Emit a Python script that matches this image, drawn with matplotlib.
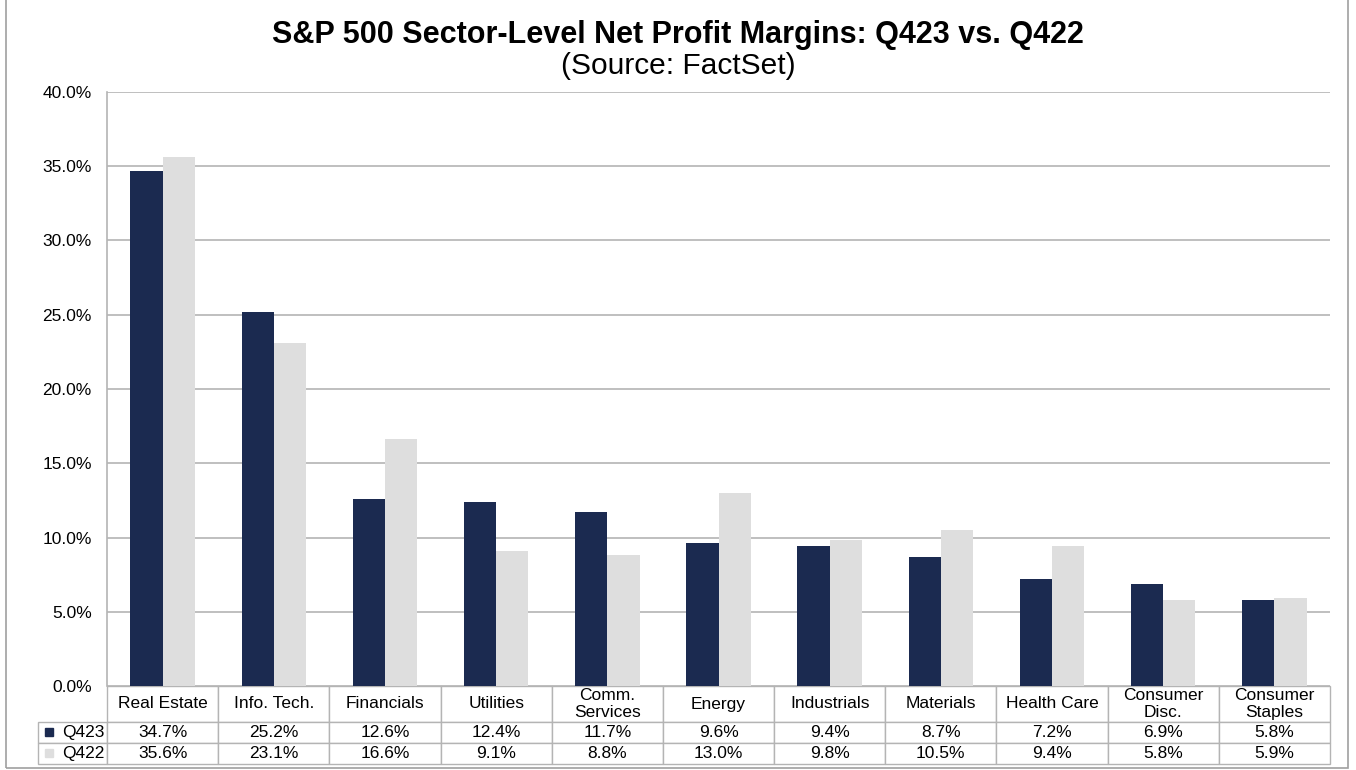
import numpy as np
import matplotlib.pyplot as plt
from matplotlib.patches import Rectangle

plt.rcParams['font.family'] = ['Liberation Sans', 'DejaVu Sans']

sektoren = ["Real Estate", "Info. Tech.", "Financials", "Utilities", "Comm.\nServices",
            "Energy", "Industrials", "Materials", "Health Care", "Consumer\nDisc.",
            "Consumer\nStaples"]
q423 = [34.7, 25.2, 12.6, 12.4, 11.7, 9.6, 9.4, 8.7, 7.2, 6.9, 5.8]
q422 = [35.6, 23.1, 16.6, 9.1, 8.8, 13.0, 9.8, 10.5, 9.4, 5.8, 5.9]
serien = ["Q423", "Q422"]

FARBE_DUNKEL = "#1B2A50"
FARBE_HELL = "#DEDEDE"
GITTER = "#B4B4B4"

W, H = 1356, 770
AX_B = 1330 - 107
AX_H = 686 - 92
fig = plt.figure(figsize=(W / 100, H / 100), dpi=100)
ax = fig.add_axes([107 / W, 1 - 686 / H, AX_B / W, AX_H / H])

x = np.arange(len(sektoren))
breite = 0.29
ax.bar(x - breite / 2, q423, width=breite, color=FARBE_DUNKEL, zorder=3)
ax.bar(x + breite / 2, q422, width=breite, color=FARBE_HELL, zorder=3)

ax.set_xlim(-0.5, len(sektoren) - 0.5)
ax.set_ylim(0, 40)
ax.set_yticks(np.arange(0, 41, 5))
ax.set_yticklabels([f"{v:.1f}%" for v in np.arange(0, 41, 5)], fontsize=12.5)
ax.tick_params(axis="y", length=0, pad=11)
ax.set_xticks([])
ax.grid(axis="y", color=GITTER, linewidth=1.2, zorder=0)
for s in ["top", "right", "bottom"]:
    ax.spines[s].set_visible(False)
ax.spines["left"].set_color(GITTER)
ax.spines["left"].set_linewidth(1.2)

# Datentabelle unter dem Diagramm
zellen = [[f"{v:.1f}%" for v in q423], [f"{v:.1f}%" for v in q422]]
tab = ax.table(cellText=zellen, rowLabels=serien, colLabels=sektoren,
               cellLoc="center", rowLoc="right",
               bbox=[0, -78 / AX_H, 1, 78 / AX_H])
tab._autoColumns = []  # Breite der Zeilenbeschriftung selbst setzen
tab.auto_set_font_size(False)
tab.set_fontsize(12.5)
for (r, c), zelle in tab.get_celld().items():
    zelle.set_edgecolor(GITTER)
    zelle.set_linewidth(1.0)
    zelle.set_height(36 / AX_H if r == 0 else 21 / AX_H)
    zelle.set_width(69 / AX_B if c == -1 else 1 / len(sektoren))
    if c == -1:
        zelle.PAD = 0.03

# Legendensymbole in der Tabelle
for i, farbe in enumerate([FARBE_DUNKEL, FARBE_HELL]):
    y0 = 1 - (732 + 21 * i) / H
    fig.patches.append(Rectangle((45 / W, y0 - 4 / H), 8 / W, 8 / H,
                                 transform=fig.transFigure, color=farbe))

fig.text(0.5, 1 - 35 / H, "S&P 500 Sector-Level Net Profit Margins: Q423 vs. Q422",
         ha="center", va="center", fontsize=22, fontweight="bold")
fig.text(0.5, 1 - 66 / H, "(Source: FactSet)", ha="center", va="center", fontsize=21.5)

# Rahmen um die Grafik
fig.patches.append(Rectangle((6 / W, 2 / H), 1342 / W, 0.999, transform=fig.transFigure,
                             fill=False, edgecolor="#A0A0A0", linewidth=1.2))

fig.savefig("out.png", dpi=100)
